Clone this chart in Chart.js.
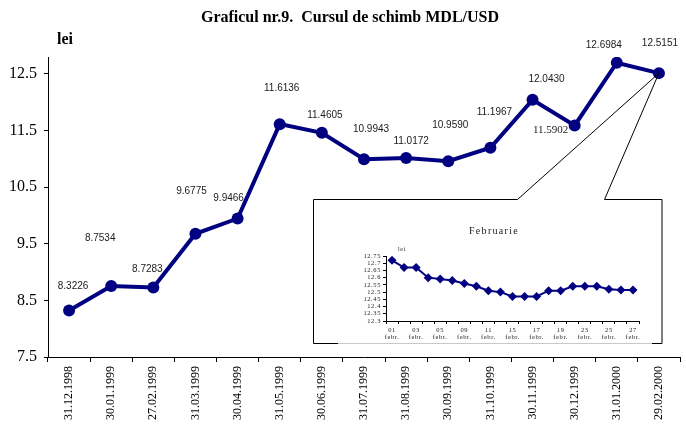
<!DOCTYPE html>
<html>
<head>
<meta charset="utf-8">
<script src="https://cdn.jsdelivr.net/npm/chart.js@4/dist/chart.umd.min.js"></script>
<style>
  html, body { margin: 0; padding: 0; background: #fff; }
  #wrap { position: relative; width: 686px; height: 424px; }
  #main { position: absolute; left: 0; top: 0; }
  #inset { position: absolute; left: 314px; top: 200px; }
</style>
</head>
<body>
<div id="wrap">
  <canvas id="main" width="686" height="424"></canvas>
  <canvas id="inset" width="347" height="142"></canvas>
</div>
<script>
// --- date ---
const categories = ["31.12.1998", "30.01.1999", "27.02.1999", "31.03.1999", "30.04.1999", "31.05.1999", "30.06.1999",
  "31.07.1999", "31.08.1999", "30.09.1999", "31.10.1999", "30.11.1999", "30.12.1999", "31.01.2000", "29.02.2000"];
const rates = [8.3226, 8.7534, 8.7283, 9.6775, 9.9466, 11.6136, 11.4605, 10.9943, 11.0172, 10.9590, 11.1967, 12.0430, 11.5902, 12.6984, 12.5151];
const yTicks = [7.5, 8.5, 9.5, 10.5, 11.5, 12.5];

// februarie 2000 (grafic mic)
const insetTicks = ["01", "03", "05", "09", "11", "15", "17", "19", "23", "25", "27"];
const insetRates = [12.72, 12.67, 12.67, 12.60, 12.59, 12.58, 12.56, 12.54, 12.51, 12.50, 12.47,
  12.47, 12.47, 12.51, 12.51, 12.54, 12.54, 12.54, 12.52, 12.515, 12.515];
const insetYTicks = [12.3, 12.35, 12.4, 12.45, 12.5, 12.55, 12.6, 12.65, 12.7, 12.75];

// pozitia etichetelor fata de punct (dx, dy)
const labelOffsets = [[4, -24], [-11, -48], [-6, -18], [-4, -42], [-9, -20], [2, -36], [3, -18], [7, -30],
  [5, -17], [2, -36], [4, -36], [14, -21], [-24, 5], [-13, -18], [1, -30]];

const NAVY = "#000080";
const SERIF = "'Liberation Serif', 'Times New Roman', serif";
const SANS = "'Liberation Sans', Arial, sans-serif";

const insetLabels = insetRates.map((v, i) => (i % 2 === 0 ? insetTicks[i / 2] : ""));

// titlu, etichete, caseta
const decor = {
  id: "decor",
  afterDraw(chart) {
    const ctx = chart.ctx;
    ctx.save();
    ctx.fillStyle = "#000";
    ctx.textAlign = "center";
    ctx.textBaseline = "middle";
    ctx.font = "bold 16px " + SERIF;
    ctx.fillText("Graficul nr.9.  Cursul de schimb MDL/USD", 350, 18);
    ctx.font = "bold 16px " + SERIF;
    ctx.fillText("lei", 65, 40);

    const pts = chart.getDatasetMeta(0).data;
    pts.forEach((p, i) => {
      const off = labelOffsets[i];
      if (i === 12) {
        ctx.font = "11px " + SERIF;
      } else {
        ctx.font = "10px " + SANS;
      }
      ctx.fillStyle = "#1a1a1a";
      ctx.fillText(rates[i].toFixed(4), p.x + off[0], p.y + off[1]);
    });

    // caseta + linii de legatura
    const last = pts[pts.length - 1];
    const L = 313.5, T = 199.5, R = 662, B = 343.5, g1 = 517.5, g2 = 604.5;
    ctx.strokeStyle = "#000";
    ctx.lineWidth = 1;
    ctx.beginPath();
    ctx.moveTo(g1, T); ctx.lineTo(L, T); ctx.lineTo(L, B); ctx.lineTo(338, B);
    ctx.moveTo(652, B); ctx.lineTo(R, B); ctx.lineTo(R, T); ctx.lineTo(g2, T);
    ctx.moveTo(g1, T); ctx.lineTo(last.x, last.y);
    ctx.moveTo(g2, T); ctx.lineTo(last.x, last.y);
    ctx.stroke();
    ctx.strokeStyle = "#c8c8c8";
    ctx.beginPath();
    ctx.moveTo(338, B); ctx.lineTo(652, B);
    ctx.stroke();
    ctx.restore();
  }
};

new Chart(document.getElementById("main"), {
  type: "line",
  data: {
    labels: categories,
    datasets: [{
      data: rates,
      borderColor: NAVY,
      borderWidth: 4,
      backgroundColor: NAVY,
      pointBackgroundColor: NAVY,
      pointBorderColor: NAVY,
      pointBorderWidth: 0,
      pointRadius: 6,
      tension: 0,
      fill: false
    }]
  },
  options: {
    responsive: false,
    animation: false,
    layout: { padding: { top: 57, left: 0, right: 0, bottom: 0 } },
    plugins: { legend: { display: false }, tooltip: { enabled: false }, title: { display: false } },
    scales: {
      x: {
        offset: true,
        grid: { offset: true, drawOnChartArea: false, tickLength: 5, color: "#000" },
        border: { color: "#000", width: 1 },
        ticks: { color: "#000", font: { family: SERIF, size: 12 }, minRotation: 90, maxRotation: 90, autoSkip: false, padding: 4 },
        afterFit: (s) => { s.height = 67; }
      },
      y: {
        min: 7.5,
        max: 12.8,
        afterBuildTicks: (s) => { s.ticks = yTicks.map((v) => ({ value: v })); },
        grid: { drawOnChartArea: false, tickLength: 4, color: "#000" },
        border: { color: "#000", width: 1 },
        ticks: { color: "#000", font: { family: SERIF, size: 16 }, padding: 7, autoSkip: false, callback: (v) => Number(v).toFixed(1) },
        afterFit: (s) => { s.width = 48; }
      }
    }
  },
  plugins: [decor]
});

// grafic mic - februarie
const insetDecor = {
  id: "insetDecor",
  beforeDraw(chart) {
    chart.ctx.letterSpacing = "0.6px";
  },
  afterDraw(chart) {
    const ctx = chart.ctx;
    ctx.save();
    ctx.fillStyle = "#222";
    ctx.textAlign = "center";
    ctx.textBaseline = "middle";
    ctx.letterSpacing = "1.3px";
    ctx.font = "10px " + SERIF;
    ctx.fillText("Februarie", 180, 31);
    ctx.letterSpacing = "0.6px";
    ctx.font = "6px " + SERIF;
    ctx.fillText("lei", 88, 49);
    ctx.restore();
  }
};

new Chart(document.getElementById("inset"), {
  type: "line",
  data: {
    labels: insetLabels,
    datasets: [{
      data: insetRates,
      borderColor: NAVY,
      borderWidth: 2,
      backgroundColor: NAVY,
      pointStyle: "rectRot",
      pointRadius: 4.5,
      pointBackgroundColor: NAVY,
      pointBorderColor: NAVY,
      pointBorderWidth: 0,
      tension: 0
    }]
  },
  options: {
    responsive: false,
    animation: false,
    layout: { padding: { top: 56, left: 0, right: 22, bottom: 0 } },
    plugins: { legend: { display: false }, tooltip: { enabled: false } },
    scales: {
      x: {
        offset: true,
        grid: { offset: true, drawOnChartArea: false, tickLength: 3, color: "#000" },
        border: { color: "#000", width: 1 },
        ticks: {
          color: "#222", font: { family: SERIF, size: 6.5 }, maxRotation: 0, autoSkip: false, padding: 2,
          callback: (v, i) => (insetLabels[i] ? [insetLabels[i], "febr."] : "")
        },
        afterFit: (s) => { s.height = 21; }
      },
      y: {
        min: 12.3,
        max: 12.75,
        afterBuildTicks: (s) => { s.ticks = insetYTicks.map((v) => ({ value: v })); },
        grid: { drawOnChartArea: false, tickLength: 3, color: "#000" },
        border: { color: "#000", width: 1 },
        ticks: { color: "#222", font: { family: SERIF, size: 6.5 }, padding: 2, autoSkip: false, callback: (v) => String(Number(Number(v).toFixed(2))) },
        afterFit: (s) => { s.width = 72; }
      }
    }
  },
  plugins: [insetDecor]
});
</script>
</body>
</html>
